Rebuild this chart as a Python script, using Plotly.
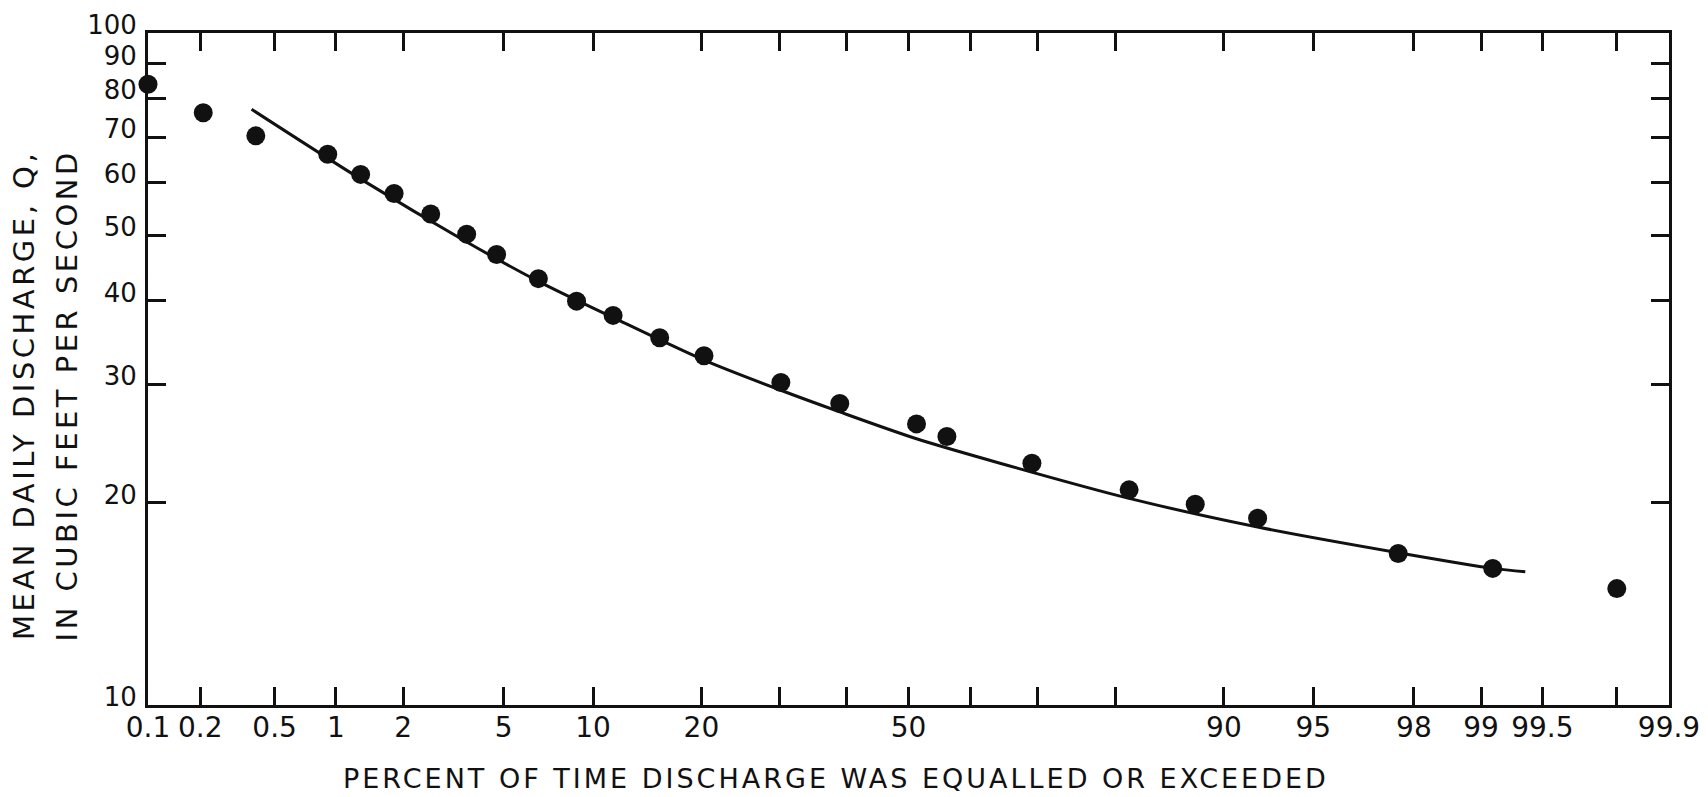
from statistics import NormalDist
import plotly.graph_objects as go

# ---- data ----
pct_points = [0.1, 0.208, 0.40, 0.914, 1.30, 1.83, 2.61, 3.63, 4.71, 6.63, 8.87, 11.5,
              15.6, 20.3, 30.2, 39.0, 51.3, 56.2, 69.2, 81.5, 87.8, 92.2, 97.67, 99.12, 99.80]
q_points = [83.9, 76.1, 70.3, 66.0, 61.6, 57.7, 53.8, 50.2, 46.8, 43.1, 39.9, 38.0,
            35.2, 33.1, 30.2, 28.1, 26.2, 25.1, 22.9, 20.9, 19.9, 18.96, 16.8, 15.97, 14.9]

pct_curve = [0.38, 1.337, 3.52, 6.63, 11.52, 20.3, 30.2, 39.0, 51.3, 64.5, 81.5, 92.2, 97.67, 99.12, 99.39]
q_curve = [77.0, 60.3, 49.2, 42.7, 37.7, 32.6, 29.4, 27.3, 24.9, 22.9, 20.3, 18.4, 16.85, 15.97, 15.79]

x_tick_pct = [0.1, 0.2, 0.5, 1, 2, 5, 10, 20, 30, 40, 50, 60, 70, 80, 90, 95, 98, 99, 99.5, 99.8, 99.9]
x_tick_text = ["0.1", "0.2", "0.5", "1", "2", "5", "10", "20", "", "", "50", "", "", "",
               "90", "95", "98", "99", "99.5", "", "99.9"]
y_tick_vals = [10, 20, 30, 40, 50, 60, 70, 80, 90, 100]
y_tick_text = ["10", "20", "30", "40", "50", "60", "70", "80", "90", "100"]

x_title = "PERCENT OF TIME DISCHARGE WAS EQUALLED OR EXCEEDED"
y_title_1 = "MEAN DAILY DISCHARGE, Q,"
y_title_2 = "IN CUBIC FEET PER SECOND"

# normal-probability scale for the x axis
_nd = NormalDist()
def prob(p):
    return [_nd.inv_cdf(v / 100.0) for v in p]

def spaced(t, px):
    return '<span style="letter-spacing:%.1fpx">%s</span>' % (px, t)

FONT = "DejaVu Sans"
INK = "#111111"

fig = go.Figure()
fig.add_trace(go.Scatter(
    x=prob(pct_curve), y=q_curve, mode="lines",
    line=dict(color=INK, width=3, shape="spline", smoothing=0.8),
    hoverinfo="skip", showlegend=False))
fig.add_trace(go.Scatter(
    x=prob(pct_points), y=q_points, mode="markers",
    marker=dict(color=INK, size=19, line=dict(width=0)),
    cliponaxis=False, showlegend=False))

zmax = _nd.inv_cdf(0.999)
fig.update_layout(
    width=1698, height=787,
    margin=dict(l=140, r=37, t=25, b=90, autoexpand=False),
    paper_bgcolor="white", plot_bgcolor="white",
    font=dict(family=FONT, color=INK),
    xaxis=dict(
        range=[-zmax, zmax], tickmode="array", tickvals=prob(x_tick_pct), ticktext=x_tick_text,
        ticks="inside", ticklen=18, tickwidth=2.5, tickcolor=INK, automargin=False,
        showline=True, linecolor=INK, linewidth=3, mirror="allticks",
        showgrid=False, zeroline=False, tickfont=dict(size=28, family=FONT, color=INK),
        ticklabelstandoff=-5),
    yaxis=dict(
        type="log", range=[1, 2], tickmode="array", tickvals=y_tick_vals, ticktext=y_tick_text,
        ticks="inside", ticklen=18, tickwidth=2.5, tickcolor=INK, automargin=False,
        showline=True, linecolor=INK, linewidth=3, mirror="allticks",
        showgrid=False, zeroline=False, tickfont=dict(size=26, family=FONT, color=INK),
        ticklabelstandoff=3, ticklabelshift=-8),
    annotations=[
        dict(text=spaced(x_title, 3.0), xref="paper", yref="paper",
             x=0.4523, y=-0.110, xanchor="center", yanchor="middle", showarrow=False,
             font=dict(size=27, family=FONT, color=INK)),
        dict(text=spaced(y_title_1, 3.5), xref="paper", yref="paper",
             x=-0.0815, y=0.4613, xanchor="center", yanchor="middle", textangle=-90, showarrow=False,
             font=dict(size=29, family=FONT, color=INK)),
        dict(text=spaced(y_title_2, 3.5), xref="paper", yref="paper",
             x=-0.0530, y=0.4613, xanchor="center", yanchor="middle", textangle=-90, showarrow=False,
             font=dict(size=29, family=FONT, color=INK)),
    ],
)

fig.write_html("out.html")
